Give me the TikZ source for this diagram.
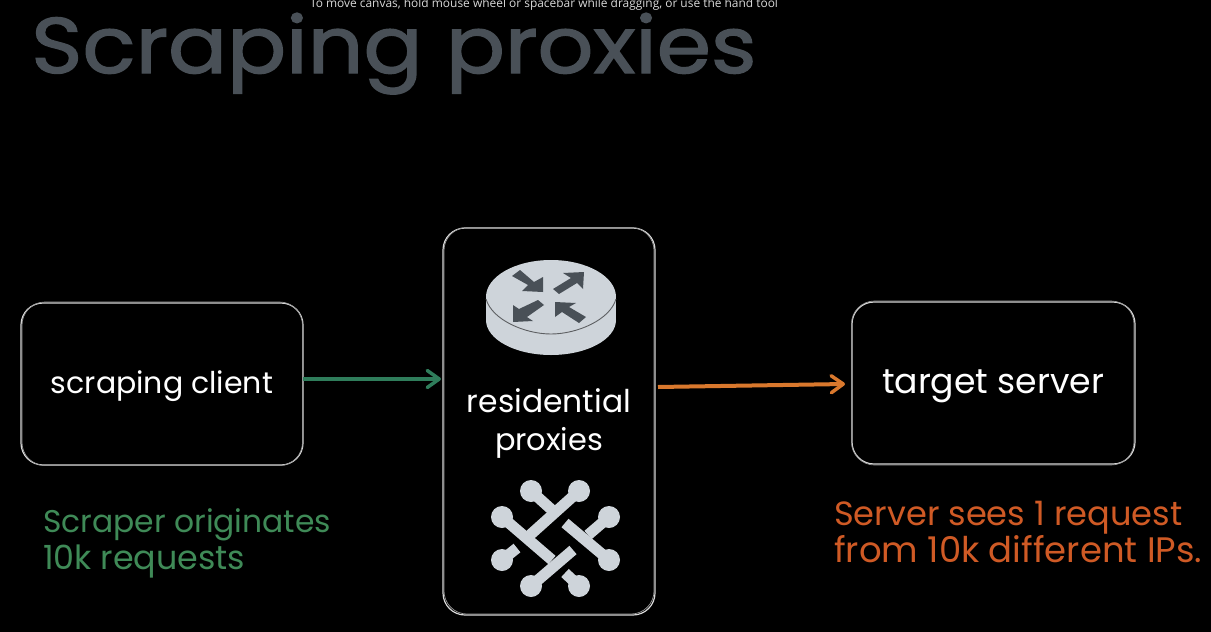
\documentclass[tikz,border=0pt]{standalone}
\usepackage{fontspec}
\setmainfont{Poppins}
\newfontfamily\hintfont{Open Sans}
\newfontfamily\titlefont[FakeBold=1.6]{Poppins}
\usetikzlibrary{arrows.meta}
\definecolor{titlegrey}{HTML}{495057}
\definecolor{iconlight}{HTML}{CED4DA}
\definecolor{icondark}{HTML}{495057}
\definecolor{edgegreen}{HTML}{2F7D5B}
\definecolor{textgreen}{HTML}{3F8A57}
\definecolor{edgeorange}{HTML}{D9782D}
\definecolor{textorange}{HTML}{CF5A25}
\definecolor{boxline}{HTML}{D8D8D8}
\newcommand{\fit}[2]{\resizebox{#1pt}{!}{#2}}
\tikzset{
  sketchbox/.style={draw=boxline,line width=1.2pt,rounded corners=22pt},
  sketchtwo/.style={draw=boxline!70!black,line width=0.7pt,rounded corners=23pt},
  lbl/.style={inner sep=0pt,text=white,anchor=base,font=\fontsize{27}{30}\selectfont},
  flow/.style={line width=4pt,-{Straight Barb[length=12pt,width=17pt,line width=3.5pt,round]}},
  bar/.style={iconlight,line width=11pt},
  routerarrow/.style={fill=icondark,draw=none}
}
\begin{document}
\begin{tikzpicture}[x=1pt,y=-1pt]
\useasboundingbox[fill=black] (0,0) rectangle (1211,632);
% hint and title
\node[inner sep=0pt,text=white!85!black,font=\hintfont\fontsize{11}{12}\selectfont] (hint) at (544,4.5) {\fit{468}{To move canvas, hold mouse wheel or spacebar while dragging, or use the hand tool}};
\node[inner sep=0pt,text=titlegrey,anchor=base west] (title) at (31,73) {\resizebox{725pt}{60pt}{\titlefont Scraping proxies}};
% boxes
\draw[sketchbox] (21,303) rectangle (303,465);
\draw[sketchtwo] (22,302) rectangle (302.5,465.5);
\draw[sketchbox] (443,228) rectangle (655,615);
\draw[sketchtwo] (444,227.5) rectangle (654,614);
\draw[sketchbox] (852,302) rectangle (1135,464);
\draw[sketchtwo] (851.5,301) rectangle (1134,465);
\coordinate (clientE) at (303,379);
\coordinate (proxyW) at (441,379);
\coordinate (proxyE) at (658,387);
\coordinate (targetW) at (845,384);
\draw[flow,edgegreen] (clientE) -- (proxyW);
\draw[flow,edgeorange] (proxyE) -- (targetW);
% labels
\node[lbl] (client) at (162,393) {\fit{222}{scraping client}};
\node[lbl] (target) at (993,393) {\fit{222}{target server}};
\node[lbl] (res) at (549,412) {\fit{164}{residential}};
\node[lbl] (prox) at (549,450) {\fit{108}{proxies}};
\node[lbl,text=textgreen,anchor=base west] (g1) at (43,532) {\fit{288}{Scraper originates}};
\node[lbl,text=textgreen,anchor=base west] (g2) at (43,569) {\fit{202}{10k requests}};
\node[lbl,text=textorange,anchor=base west] (o1) at (834,525) {\fit{348}{Server sees 1 request}};
\node[lbl,text=textorange,anchor=base west] (o2) at (834,562) {\fit{368}{from 10k different IPs.}};
% router icon
\fill[iconlight] (551,297) ellipse[x radius=65,y radius=37];
\fill[iconlight] (551,320) ellipse[x radius=65,y radius=35];
\fill[iconlight] (486,297) rectangle (616,320);
\draw[black!55!iconlight,line width=0.9pt] (486,299) .. controls (492,320) and (525,334) .. (551,334) .. controls (577,334) and (610,320) .. (616,299);
\fill[routerarrow] (520,270) -- (534,282) -- (543,277) -- (543,292) -- (522,291) -- (528,285) -- (512,276) -- cycle;
\fill[routerarrow] (584,272) -- (583,289) -- (577,283) -- (559,294) -- (553,289) -- (571,278) -- (563,273) -- cycle;
\fill[routerarrow] (513,322) -- (513,305) -- (519,309) -- (538,300) -- (544,305) -- (527,317) -- (533,321) -- cycle;
\fill[routerarrow] (555,302) -- (576,303) -- (569,307) -- (586,317) -- (579,323) -- (562,312) -- (555,317) -- cycle;
% knot icon
\draw[bar] (531,491) -- (552,510);
\draw[bar] (565,523) -- (609,560);
\draw[bar] (579,491) -- (530,535);
\draw[bar] (517,548) -- (502,560);
\draw[bar] (502,517) -- (552,560);
\draw[bar] (565,573) -- (579,586);
\draw[bar] (531,586) -- (573,550);
\draw[bar] (588,535) -- (609,517);
\foreach \px/\py in {531/491,579/491,502/517,609/517,502/560,609/560,531/586,579/586}
  \fill[iconlight] (\px,\py) circle[radius=11];
\end{tikzpicture}
\end{document}
